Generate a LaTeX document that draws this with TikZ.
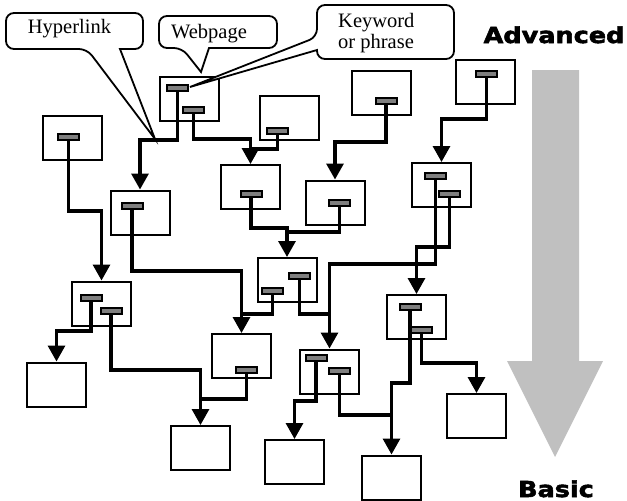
\documentclass[tikz,border=0pt]{standalone}
\usepackage{fontspec}
\setmainfont{Liberation Serif}
\newfontfamily\blackfont[FakeStretch=1.16,FakeBold=2.5]{DejaVu Sans Bold}
\usetikzlibrary{arrows.meta}
\definecolor{linkgray}{HTML}{7F7F7F}
\definecolor{arrowgray}{HTML}{C0C0C0}
\tikzset{
 page/.style={draw, line width=2pt, minimum width=59pt, minimum height=44pt, inner sep=0pt},
 hlink/.style={draw, fill=linkgray, line width=2pt, minimum width=21pt, minimum height=6pt, inner sep=0pt},
 conn/.style={line width=3.2pt, -{Triangle[width=17pt,length=16pt]}},
 joinline/.style={line width=3.2pt},
 callout/.style={draw, line width=1.8pt, fill=white},
 lbl/.style={font=\fontsize{20.5}{21}\selectfont, inner sep=0pt, anchor=base},
 big/.style={font=\blackfont\fontsize{22}{24}\selectfont, inner sep=0pt, anchor=base},
}
\begin{document}
\begin{tikzpicture}[x=1pt,y=-1pt]
\useasboundingbox (0,0) rectangle (627,501);

% gray arrow
\fill[arrowgray] (532,70) -- (579,70) -- (579,361) -- (603,361) -- (555,457) -- (507,361) -- (532,361) -- cycle;
\node[big] (adv) at (554,43) {Advanced};
\node[big] (bas) at (556,497) {Basic};

% pages
\node[page] (A) at (189.5,98.5) {};
\node[page] (B) at (72,138) {};
\node[page] (C) at (289.5,117.5) {};
\node[page] (D) at (250.5,187) {};
\node[page] (E) at (381,92.5) {};
\node[page] (F) at (485.5,81.5) {};
\node[page] (G) at (441.5,185) {};
\node[page] (H) at (335,202.5) {};
\node[page] (J) at (140,212.5) {};
\node[page] (K) at (101.5,303.5) {};
\node[page] (L) at (287,280) {};
\node[page] (I) at (416.5,317) {};
\node[page] (M) at (241.5,356) {};
\node[page] (P) at (329.5,371.5) {};
\node[page] (N) at (56.5,384.5) {};
\node[page] (O) at (200.5,448) {};
\node[page] (Q) at (294.5,462) {};
\node[page] (R) at (391.5,477.5) {};
\node[page] (S) at (476.5,416) {};

% links
\node[hlink] (A1) at (177.5,88) {};
\node[hlink] (A2) at (193.5,110) {};
\node[hlink] (B1) at (68.5,137) {};
\node[hlink] (C1) at (277.5,131) {};
\node[hlink] (D1) at (251,194) {};
\node[hlink] (E1) at (386,100.5) {};
\node[hlink] (F1) at (486.5,74) {};
\node[hlink] (G1) at (435.5,176) {};
\node[hlink] (G2) at (449.5,194) {};
\node[hlink] (H1) at (339.5,203) {};
\node[hlink] (J1) at (132,206) {};
\node[hlink] (K1) at (91,298) {};
\node[hlink] (K2) at (111,311) {};
\node[hlink] (L1) at (272.5,291) {};
\node[hlink] (L2) at (299.5,276) {};
\node[hlink] (I1) at (410,307) {};
\node[hlink] (I2) at (421.5,329.5) {};
\node[hlink] (M1) at (246.5,370) {};
\node[hlink] (P1) at (316,358) {};
\node[hlink] (P2) at (339.5,371) {};

% connectors
\draw[conn] (A1.south) -- (A1.south |- 0,140) -| (J.north);
\draw[conn] (A2.south) -- (A2.south |- 0,139) -| (D.north);
\draw[joinline] (C1.south) |- (D.north |- 0,149);
\draw[conn] (B1.south) -- (B1.south |- 0,211) -| (K.north);
\draw[conn] (J1.south) -- (J1.south |- 0,271) -| (M.north);
\draw[conn] (D1.south) -- (D1.south |- 0,228) -| (L.north);
\draw[joinline] (H1.south) |- (L.north |- 0,232);
\draw[conn] (E1.south) -- (E1.south |- 0,142) -| (H.north);
\draw[conn] (F1.south) -- (F1.south |- 0,119) -| (G.north);
\draw[conn] (G1.south) -- (G1.south |- 0,264) -| (P.north);
\draw[conn] (G2.south) -- (G2.south |- 0,247) -| (I.north);
\draw[joinline] (L1.south) |- (M.north |- 0,314);
\draw[joinline] (L2.south) |- (P.north |- 0,314);
\draw[conn] (K1.south) -- (K1.south |- 0,331) -| (N.north);
\draw[conn] (K2.south) -- (K2.south |- 0,370) -| (O.north);
\draw[joinline] (M1.south) |- (O.north |- 0,399);
\draw[conn] (P1.south) -- (P1.south |- 0,401) -| (Q.north);
\draw[joinline] (P2.south) |- (R.north |- 0,415);
\draw[conn] (I1.south) -- (I1.south |- 0,383) -| (R.north);
\draw[conn] (I2.south) -- (I2.south |- 0,363) -| (S.north);

% callouts
\draw[callout] (120,49) [rounded corners=8] -- (143,49) -- (143,13) -- (6,13) -- (6,49) -- (87,49) [sharp corners] -- (155,139) -- cycle;
\node[lbl] (hyp) at (69.5,33) {Hyperlink};
\draw[callout] (209,48) [rounded corners=8] -- (277,48) -- (277,16) -- (159,16) -- (159,48) -- (182,48) [sharp corners] -- (201,72) -- cycle;
\node[lbl] (web) at (209,38) {Webpage};
\draw[callout] (317,50) [rounded corners=8] -- (317,59) -- (454,59) -- (454,5) -- (317,5) -- (317,37) [sharp corners] -- (190,87) -- cycle;
\node[lbl, anchor=base west] (kw1) at (338,27) {Keyword};
\node[lbl, anchor=base west] (kw2) at (338,48) {or phrase};
\end{tikzpicture}
\end{document}
